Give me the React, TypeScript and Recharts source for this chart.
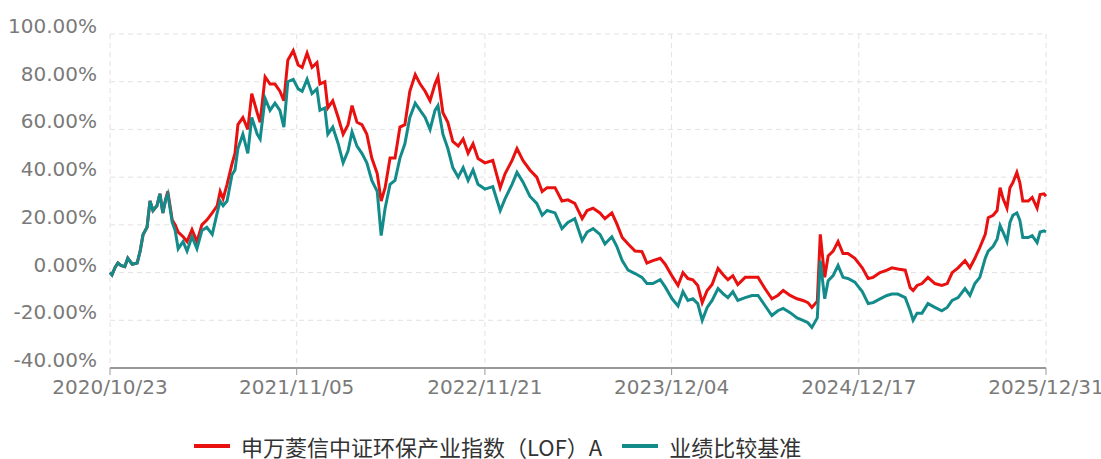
import React from "react";
import { LineChart, Line, XAxis, YAxis, CartesianGrid, Legend } from "recharts";

// sample dates (roughly every 10 days)
const dates = [
  "2020-10-23", "2020-10-27", "2020-11-02", "2020-11-08", "2020-11-14", "2020-11-22", "2020-11-28",
  "2020-12-07", "2020-12-17", "2020-12-23", "2020-12-29", "2021-01-06", "2021-01-12", "2021-01-18",
  "2021-01-26", "2021-02-01", "2021-02-07", "2021-02-13", "2021-02-17", "2021-02-26", "2021-03-04",
  "2021-03-10", "2021-03-20", "2021-03-28", "2021-04-07", "2021-04-17", "2021-04-27", "2021-05-07",
  "2021-05-18", "2021-05-28", "2021-06-03", "2021-06-09", "2021-06-17", "2021-06-27", "2021-07-03",
  "2021-07-09", "2021-07-19", "2021-07-29", "2021-08-06", "2021-08-17", "2021-08-23", "2021-09-02",
  "2021-09-12", "2021-09-22", "2021-10-02", "2021-10-10", "2021-10-18", "2021-10-29", "2021-11-08",
  "2021-11-16", "2021-11-26", "2021-12-06", "2021-12-16", "2021-12-22", "2022-01-01", "2022-01-07",
  "2022-01-17", "2022-01-28", "2022-02-07", "2022-02-17", "2022-02-25", "2022-03-07", "2022-03-17",
  "2022-03-27", "2022-04-06", "2022-04-17", "2022-04-25", "2022-05-03", "2022-05-13", "2022-05-23",
  "2022-06-02", "2022-06-12", "2022-06-22", "2022-07-03", "2022-07-13", "2022-07-23", "2022-08-02",
  "2022-08-12", "2022-08-18", "2022-08-28", "2022-09-07", "2022-09-17", "2022-09-28", "2022-10-08",
  "2022-10-18", "2022-10-28", "2022-11-07", "2022-11-21", "2022-12-07", "2022-12-22", "2023-01-01",
  "2023-01-15", "2023-01-25", "2023-02-06", "2023-02-20", "2023-03-06", "2023-03-17", "2023-03-27",
  "2023-04-12", "2023-04-26", "2023-05-08", "2023-05-22", "2023-06-06", "2023-06-16", "2023-06-28",
  "2023-07-12", "2023-07-22", "2023-08-05", "2023-08-15", "2023-08-26", "2023-09-07", "2023-09-21",
  "2023-10-05", "2023-10-15", "2023-10-27", "2023-11-11", "2023-11-21", "2023-12-05", "2023-12-17",
  "2023-12-27", "2024-01-06", "2024-01-16", "2024-01-26", "2024-02-04", "2024-02-14", "2024-02-24",
  "2024-03-07", "2024-03-17", "2024-03-27", "2024-04-06", "2024-04-16", "2024-05-01", "2024-05-15",
  "2024-05-27", "2024-06-10", "2024-06-24", "2024-07-06", "2024-07-17", "2024-07-31", "2024-08-14",
  "2024-08-26", "2024-09-05", "2024-09-13", "2024-09-24", "2024-09-30", "2024-10-09", "2024-10-16",
  "2024-10-26", "2024-11-05", "2024-11-15", "2024-11-25", "2024-12-09", "2024-12-24", "2025-01-05",
  "2025-01-15", "2025-01-29", "2025-02-12", "2025-02-22", "2025-03-06", "2025-03-21", "2025-03-31",
  "2025-04-06", "2025-04-14", "2025-04-24", "2025-05-06", "2025-05-20", "2025-06-03", "2025-06-14",
  "2025-06-24", "2025-07-06", "2025-07-20", "2025-07-30", "2025-08-09", "2025-08-19", "2025-08-30",
  "2025-09-05", "2025-09-15", "2025-09-23", "2025-09-29", "2025-10-05", "2025-10-13", "2025-10-19",
  "2025-10-25", "2025-11-02", "2025-11-08", "2025-11-14", "2025-11-25", "2025-12-03", "2025-12-13",
  "2025-12-19", "2025-12-27", "2025-12-31",
];

// 申万菱信中证环保产业指数（LOF）A, cumulative return %
const fund = [
  0, -1, 2, 4, 3, 2.5, 6,
  3.5, 4, 9, 16, 19, 30, 26,
  28, 33, 25, 31, 34, 22, 20,
  17, 15, 13, 18, 13, 20, 22,
  25, 28, 34, 31, 37, 45.6, 50,
  62, 65, 60, 75, 67, 63, 82,
  79, 79, 76, 72, 89, 93, 87,
  86, 92, 86, 88, 79, 80, 69,
  72, 65, 58, 62, 70, 63, 62,
  58, 48, 41.5, 30, 35.6, 48, 48,
  61, 62, 76, 83, 79, 76, 72,
  79, 82, 67, 63, 55, 53, 56,
  50, 54, 47.8, 46, 47, 35.6, 41.5,
  47, 52, 47, 43, 40, 34, 35.6,
  35.6, 30, 30.5, 29, 22.6, 26, 27,
  25, 22.6, 25, 20.5, 14.7, 12, 9,
  8.8, 4, 5, 6, 3.5, -1.5, -5.4,
  0, -2.5, -3, -5.4, -12.6, -7.5, -5,
  1.7, -0.8, -3, -1.3, -5, -2, -2,
  -2, -6.7, -11, -9.6, -7.5, -9.6, -11,
  -11.7, -12.6, -14.6, -12, 16, -2, 7,
  9, 13, 8, 8, 6, 2, -2.5,
  -2, 0, 1, 2, 1.5, 1, -6.3,
  -7.5, -5.4, -4.6, -2, -4.6, -5.4, -4.6,
  0, 2, 5, 2, 6, 10.5, 16,
  23, 24, 26, 35.6, 31, 27, 35.6,
  37.7, 42, 37.7, 30, 30, 31.5, 27,
  32.7, 33, 32,
];

// 业绩比较基准, cumulative return %
const benchmark = [
  0, -1, 2, 4, 3, 2.5, 6,
  3.5, 4, 9, 16, 19, 30, 26,
  28, 33, 25, 31, 33, 21, 17.6,
  10, 13, 9, 15, 10, 17.6, 19,
  16, 25, 30, 28, 30, 41, 43,
  52, 58, 50, 65, 58, 56, 73,
  68, 71, 68, 61, 80, 81, 77,
  76, 81, 75, 77, 68, 69, 58,
  61, 54, 46, 51, 59, 53, 50,
  46, 38.6, 34, 15.5, 27, 37, 38.6,
  48, 54, 65, 71, 68, 65, 60,
  68, 70, 58, 52, 44, 40, 44,
  38.6, 43, 37, 35, 36, 26, 31,
  37, 42, 38, 32, 29, 24, 26,
  25, 18.4, 21, 22.6, 13.4, 17, 18.4,
  16, 12, 15, 11, 5, 1, -0.4,
  -2, -4.6, -4.6, -3, -6, -11, -14,
  -8, -11.7, -11, -13, -20, -14.6, -11.7,
  -6.7, -8.8, -10.5, -8, -11.7, -10.5, -9.6,
  -9.6, -13.8, -18, -16, -15, -16.8, -19,
  -20, -21, -23, -19, 5, -11, -3.4,
  -1.3, 3, -2, -2.5, -4, -8, -13,
  -12.6, -11, -9.6, -9, -9, -10.5, -16,
  -20, -17, -17, -13, -14.6, -16, -14.6,
  -11.7, -10.5, -6.7, -9.6, -4.6, -2, 6,
  9, 11, 14, 19.7, 17, 13, 21,
  24, 25, 22, 14.7, 14.7, 15.5, 12.6,
  17, 17.5, 17,
];

const seriesKeys = ["fund", "benchmark"];
const tickLabels = ["2020/10/23", "2021/11/05", "2022/11/21", "2023/12/04", "2024/12/17", "2025/12/31"];
const yTicks = [-40, -20, 0, 20, 40, 60, 80, 100];

const toTime = (s: string) => Date.parse(s.replace(/\//g, "-") + "T00:00:00Z");
const xTicks = tickLabels.map(toTime);

const data = dates.map((d, i) => ({
  t: toTime(d),
  fund: fund[i],
  benchmark: benchmark[i],
}));

const TICK_FONT = "'DejaVu Sans', sans-serif";
const CJK_FONT = "'Noto Sans CJK SC', sans-serif";

function fmtDate(ts: number) {
  const d = new Date(ts);
  const mm = String(d.getUTCMonth() + 1).padStart(2, "0");
  const dd = String(d.getUTCDate()).padStart(2, "0");
  return `${d.getUTCFullYear()}/${mm}/${dd}`;
}

function XTick({ x, y, payload }: any) {
  return (
    <text x={x} y={y} dy={17} textAnchor="middle" fill="#7a7a7a" fontSize={20} fontFamily={TICK_FONT}>
      {fmtDate(payload.value)}
    </text>
  );
}

function YTick({ x, y, payload }: any) {
  return (
    <text x={x} y={y} dy={-1} textAnchor="end" fill="#7a7a7a" fontSize={20} fontFamily={TICK_FONT}>
      {`${payload.value.toFixed(2)}%`}
    </text>
  );
}

function LegendBox({ payload }: any) {
  const items = [...(payload || [])].sort(
    (a: any, b: any) => seriesKeys.indexOf(a.dataKey) - seriesKeys.indexOf(b.dataKey)
  );
  return (
    <div
      style={{
        display: "flex",
        alignItems: "center",
        height: 30,
        paddingLeft: 194,
        fontFamily: CJK_FONT,
        fontSize: 22,
        color: "#333",
        whiteSpace: "nowrap",
      }}
    >
      {items.map((p: any) => (
        <div key={p.value} style={{ display: "flex", alignItems: "center", marginRight: 20 }}>
          <span style={{ display: "inline-block", width: 36, height: 4, background: p.color, marginRight: 11 }} />
          <span style={{ lineHeight: "30px" }}>{p.value}</span>
        </div>
      ))}
    </div>
  );
}

export default function App() {
  return (
    <div style={{ position: "absolute", left: 0, top: 0, background: "#fff" }}>
      <LineChart width={1101} height={459} data={data} margin={{ top: 34, right: 55, bottom: 0, left: 0 }}>
        <CartesianGrid stroke="#e2e2e2" strokeDasharray="5 4" />
        <XAxis
          dataKey="t"
          type="number"
          scale="time"
          domain={[xTicks[0], xTicks[xTicks.length - 1]]}
          ticks={xTicks}
          interval={0}
          tick={<XTick />}
          tickSize={7}
          tickLine={{ stroke: "#999" }}
          axisLine={{ stroke: "#999", strokeWidth: 2 }}
          height={61}
        />
        <YAxis
          domain={[-40, 100]}
          ticks={yTicks}
          interval={0}
          width={110}
          axisLine={false}
          tickLine={false}
          tickSize={6}
          tickMargin={7}
          tick={<YTick />}
        />
        <Legend
          verticalAlign="bottom"
          height={30}
          wrapperStyle={{ left: 0, width: 1101, bottom: -2 }}
          content={<LegendBox />}
        />
        <Line
          type="linear"
          dataKey="fund"
          name="申万菱信中证环保产业指数（LOF）A"
          stroke="#e8110f"
          strokeWidth={3}
          dot={false}
          isAnimationActive={false}
        />
        <Line
          type="linear"
          dataKey="benchmark"
          name="业绩比较基准"
          stroke="#138b8b"
          strokeWidth={3}
          dot={false}
          isAnimationActive={false}
        />
      </LineChart>
    </div>
  );
}
